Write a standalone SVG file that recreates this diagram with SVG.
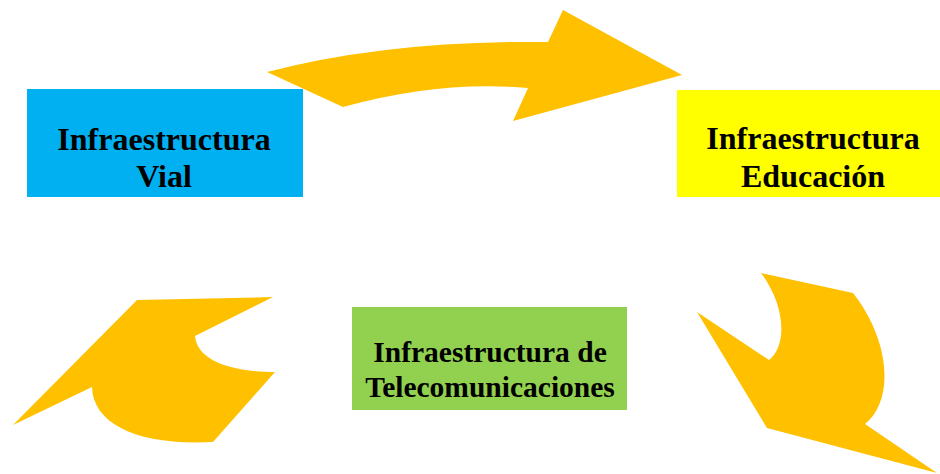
<svg xmlns="http://www.w3.org/2000/svg" width="940" height="474" viewBox="0 0 940 474">
<style>
.arrow{fill:#FFC000;stroke:none}
.lbl{font-family:"Liberation Serif","Times New Roman",serif;font-weight:bold;fill:#000;text-anchor:middle}
.big{font-size:32px}
.small{font-size:29.5px}
</style>
<rect width="940" height="474" fill="#fff"/>
<g id="connectors">
<path class="arrow" d="M267,72 Q390,40 548,42 L563,10 L682,75 L513,121 L528,88 Q440,80 343,107 Z"/>
<path class="arrow" d="M761,273 L853,293 C890,340 895,400 865,424 L937,473 L767,428 L697,312 L769,360 C788,345 785,305 761,273 Z"/>
<path class="arrow" d="M137,300 L273,297 L195,336 C197,360 230,372 275,372 L213,442 C140,446 93,425 92,387 L13,425 Z"/>
</g>
<g id="vial">
<rect x="27" y="89" width="276" height="108" fill="#00B0F0"/>
<text class="lbl big" x="164" y="150">Infraestructura</text>
<text class="lbl big" x="164" y="187">Vial</text>
</g>
<g id="educacion">
<rect x="677" y="90" width="263" height="107" fill="#FFFF00"/>
<text class="lbl big" x="813" y="149">Infraestructura</text>
<text class="lbl big" x="813" y="187">Educación</text>
</g>
<g id="telecom">
<rect x="352" y="307" width="275" height="103" fill="#92D050"/>
<text class="lbl small" x="490" y="362">Infraestructura de</text>
<text class="lbl small" x="490" y="397">Telecomunicaciones</text>
</g>
</svg>
